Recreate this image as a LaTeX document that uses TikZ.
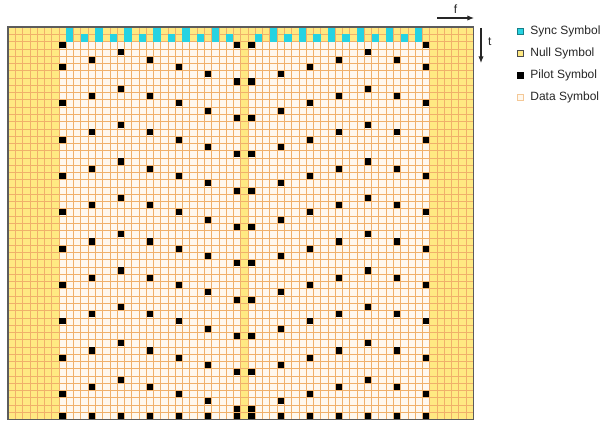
\documentclass[tikz,border=0pt]{standalone}
\usepackage{fontspec}
\setmainfont{Liberation Sans}
\usetikzlibrary{arrows.meta, positioning}
\definecolor{cNull}{HTML}{FFE982}
\definecolor{cData}{HTML}{FFF8EE}
\definecolor{cGrid}{HTML}{F0B06A}
\definecolor{cSync}{HTML}{26D3E2}
\definecolor{cFrame}{HTML}{5C5C5C}
\tikzset{
    x=0.75pt, y=-0.75pt, font=\fontsize{9}{11}\selectfont,
    cellgrid/.style={draw=cGrid, line width=0.42pt},
    nullcell/.style={fill=cNull},
    synccell/.style={fill=cSync},
    pilotcell/.style={fill=black},
    frame/.style={draw=cFrame, line width=0.8pt},
    axisarr/.style={-{Latex[length=5pt, width=4pt]}, line width=0.8pt, black!85},
    legbox/.style={line width=0.4pt, minimum size=4.8pt, inner sep=0pt},
    legtxt/.style={text=black!85, inner sep=1pt},
    axlbl/.style={text=black!85, inner sep=1pt},
}

\begin{document}
\begin{tikzpicture}
    \useasboundingbox (0,0) rectangle (605,424);

    \begin{scope}[shift={(8,27)}, x=5.4525pt, y=-5.4525pt]
        \fill[cData] (0,0) rectangle (64,54);
        \fill[nullcell] (0,0) rectangle (7,54);
        \fill[nullcell] (58,0) rectangle (64,54);
        \fill[nullcell] (32,0) rectangle (33,54);
        \fill[nullcell] (0,0) rectangle (64,2);

        \foreach \i in {0,...,64}
            \draw[cellgrid] (\i,0) -- (\i,54);
        \foreach \j in {0,...,54}
            \draw[cellgrid] (0,\j) -- (64,\j);

        % sync symbols in the first two symbols of the frame
        \foreach \c in {8,10,...,30,34,36,...,56}
            \fill[synccell] (\c,1) rectangle (\c+1,2);
        \foreach \c in {8,12,...,28,36,40,...,56}
            \fill[synccell] (\c,0) rectangle (\c+1,1);

        % scattered pilots, one every 5 symbols per pilot carrier
        \foreach \c/\p in {7/0, 11/4, 15/3, 19/4, 23/0, 27/1, 31/2,
                           33/2, 37/1, 41/0, 45/4, 49/3, 53/4, 57/0}{
            \foreach \k in {0,...,10}{
                \pgfmathtruncatemacro{\r}{\p+5*\k}
                \ifnum\r>1 \ifnum\r<53
                    \fill[pilotcell] (\c+0.08,\r+0.08) rectangle (\c+0.92,\r+0.92);
                \fi\fi
            }
        }
        \foreach \c in {7,57}
            \fill[pilotcell] (\c+0.08,2.08) rectangle (\c+0.92,2.92);
        \foreach \c in {7,11,...,31,33,37,...,57}
            \fill[pilotcell] (\c+0.08,53.08) rectangle (\c+0.92,53.92);

        \draw[frame] (0,0) rectangle (64,54);
    \end{scope}

    \coordinate (fA) at (437,18);
    \coordinate (fB) at (474,18);
    \draw[axisarr] (fA) -- (fB) node[axlbl, midway, above=2pt] (fLbl) {f};
    \coordinate (tA) at (481,28);
    \coordinate (tB) at (481,63);
    \draw[axisarr] (tA) -- (tB) node[axlbl, pos=0.4, right=4pt] (tLbl) {t};

    \node[legbox, draw=cSync!60!black, fill=cSync] (kSync) at (520,31) {};
    \node[legtxt, right=4pt of kSync] (tSync) {Sync Symbol};
    \node[legbox, draw=black!70, fill=cNull] (kNull) at (520,53) {};
    \node[legtxt, right=4pt of kNull] (tNull) {Null Symbol};
    \node[legbox, draw=black, fill=black] (kPilot) at (520,75) {};
    \node[legtxt, right=4pt of kPilot] (tPilot) {Pilot Symbol};
    \node[legbox, draw=cGrid!70, fill=cData] (kData) at (520,97) {};
    \node[legtxt, right=4pt of kData] (tData) {Data Symbol};
\end{tikzpicture}
\end{document}
